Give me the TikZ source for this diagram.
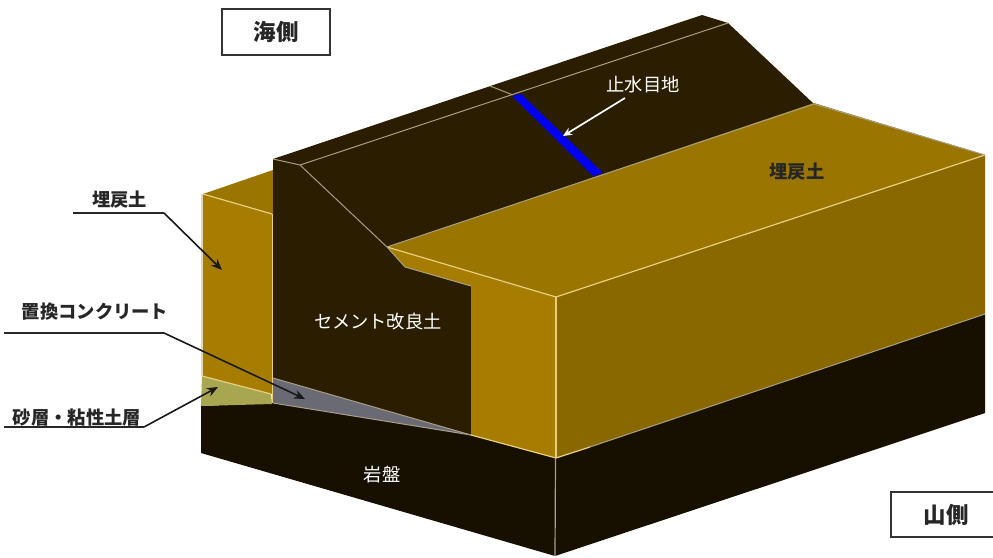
\documentclass[tikz,border=0pt]{standalone}
\usepackage{fontspec}
\setmainfont{Noto Sans CJK JP}
\usetikzlibrary{arrows.meta}
\definecolor{fillTop}{HTML}{9A7500}
\definecolor{fillFront}{HTML}{A67D00}
\definecolor{fillRight}{HTML}{8A6800}
\definecolor{damDark}{HTML}{2B1E00}
\definecolor{rock}{HTML}{171000}
\definecolor{sandLayer}{HTML}{A8A650}
\definecolor{concGrey}{HTML}{6A6A74}
\definecolor{edgeLight}{HTML}{E8CF80}
\definecolor{edgeGrey}{HTML}{A89E86}
\definecolor{jointBlue}{HTML}{0000F0}
\tikzset{
  edgeline/.style={draw=edgeLight,line width=1.2pt},
  faintline/.style={draw=edgeGrey,line width=1pt},
  darklabel/.style={text=black!85,font=\fontsize{18.3}{20}\selectfont\bfseries,inner sep=0pt},
  lightlabel/.style={text=white,font=\fontsize{18.3}{20}\selectfont,inner sep=0pt},
  sidebox/.style={draw=black!80,line width=1.1pt,fill=white,font=\fontsize{22.5}{24}\selectfont\bfseries,text=black!85,inner sep=0pt},
  leader/.style={draw=black!85,line width=1.1pt},
  pointer/.style={draw=black!90,line width=1.6pt,-{Stealth[length=11pt,width=9pt]}},
  whitepointer/.style={draw=white,line width=1.7pt,-{Stealth[length=9pt,width=8pt]}}
}
\begin{document}
\begin{tikzpicture}[x=1pt,y=-1pt]
\useasboundingbox (0,0) rectangle (993,557);
% bedrock
\fill[rock] (201,406) -- (273,403) -- (471,435) -- (556,458) -- (985,314) -- (985,413) -- (555,556) -- (201,453) -- cycle;
% left backfill
\fill[fillTop] (203,194) -- (273,170) -- (273,214) -- cycle;
\fill[fillFront] (202,194) -- (272,214) -- (272,394) -- (202,376) -- cycle;
\fill[sandLayer] (202,376) -- (271,394) -- (272,404) -- (201,406) -- cycle;
% concrete
\fill[concGrey] (273,378) -- (471,435) -- (273,403) -- cycle;
% dam
\fill[damDark] (273,159) -- (702,15) -- (728,23) -- (814,104) -- (387,247) -- (405,267) -- (471,286) -- (471,435) -- (273,378) -- cycle;
% right backfill
\fill[fillTop] (387,247) -- (814,103) -- (985,155) -- (556,297) -- cycle;
\fill[fillFront] (387,247) -- (556,297) -- (556,458) -- (471,435) -- (471,286) -- (405,267) -- cycle;
\fill[fillRight] (556,297) -- (985,155) -- (985,314) -- (556,458) -- cycle;
% edges
\draw[edgeline] (203,194) -- (272,214);
\draw[edgeline] (202,376) -- (271,394);
\draw[edgeline] (272.5,214) -- (272.5,403);
\draw[edgeline,draw=white!70!fillFront] (202,194) -- (202,376);
\draw[edgeline] (387,247) -- (556,297);
\draw[edgeline] (556,297) -- (985,155);
\draw[edgeline] (556,297) -- (556,458);
\draw[edgeline] (471,435) -- (556,458) -- (590,447);
\draw[faintline] (387,247) -- (814,104);
\draw[faintline] (814,104) -- (985,155);
\draw[faintline] (273,159) -- (300,165) -- (387,247) -- (405,267) -- (471,286);
\draw[faintline] (300,165) -- (728,23);
\draw[faintline] (490,86) -- (513,95);
\draw[faintline] (273,378) -- (471,435);
\draw[faintline] (273,403) -- (471,435);
\draw[faintline] (590,447) -- (985,314);
\draw[draw=white!60!rock,line width=1.2pt] (555.5,458) -- (555,556);
\draw[draw=white!85!fillRight,line width=0.8pt] (985,155) -- (985,314);
% stop-water joint
\fill[jointBlue] (512,96) -- (521,94) -- (603,173) -- (593,176) -- cycle;
% labels
\node[sidebox,minimum width=108pt,minimum height=46pt] (sea) at (276,32) {海側};
\node[sidebox,minimum width=110pt,minimum height=45pt] (mountain) at (946,514.5) {山側};
\node[darklabel] (lblfill) at (119.5,200) {埋戻土};
\node[darklabel] (lblconc) at (95,312) {置換コンクリート};
\node[darklabel] (lblsand) at (77,418) {砂層・粘性土層};
\node[darklabel] (lblfill2) at (797,172) {埋戻土};
\node[lightlabel] (lbljoint) at (643,85) {止水目地};
\node[lightlabel] (lblcem) at (378,322) {セメント改良土};
\node[lightlabel] (lblrock) at (382,475) {岩盤};
% leaders
\coordinate (fillstart) at (73,213);
\coordinate (fillknee) at (164,213);
\coordinate (filltip) at (222,270);
\coordinate (concstart) at (4,333);
\coordinate (concknee) at (164,333);
\coordinate (conctip) at (305,399);
\coordinate (sandstart) at (4,427);
\coordinate (sandknee) at (144,427);
\coordinate (sandtip) at (218,387);
\coordinate (jointstart) at (625,98);
\coordinate (jointtip) at (563,136);
\draw[leader] (fillstart) -- (fillknee);
\draw[pointer] (fillknee) -- (filltip);
\draw[leader] (concstart) -- (concknee);
\draw[pointer] (concknee) -- (conctip);
\draw[leader] (sandstart) -- (sandknee);
\draw[pointer] (sandknee) -- (sandtip);
\draw[whitepointer] (jointstart) -- (jointtip);
\end{tikzpicture}
\end{document}
